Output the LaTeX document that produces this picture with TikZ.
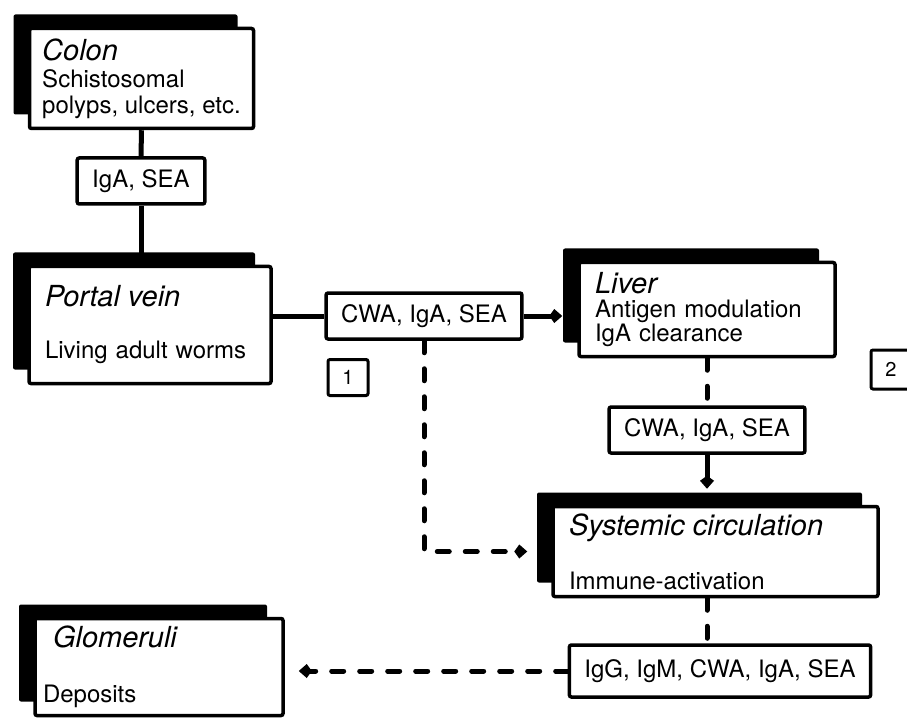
\documentclass[tikz,border=0pt]{standalone}
\usepackage{fontspec}
\setmainfont{TeX Gyre Heros}
\usetikzlibrary{arrows.meta,shadows}

\newcommand{\organ}[1]{{\fontsize{29}{26}\selectfont\itshape #1}}

\begin{document}
\begin{tikzpicture}[x=1pt,y=-1pt,
  organ box/.style={draw,line width=3.5pt,fill=white,rounded corners=2pt,
    align=left,inner xsep=16pt,inner ysep=0pt,font=\fontsize{24}{26}\selectfont,
    drop shadow={shadow xshift=-16pt,shadow yshift=14pt,fill=black,opacity=1}},
  antigen box/.style={draw,line width=3.5pt,fill=white,rounded corners=2pt,
    inner xsep=15pt,minimum height=46pt,font=\fontsize{24}{26}\selectfont},
  number box/.style={draw,line width=3pt,fill=white,rounded corners=2pt,
    minimum width=40pt,minimum height=36pt,font=\fontsize{20}{20}\selectfont},
  conn/.style={line width=5pt},
  conn dashed/.style={conn,line cap=round,dash pattern=on 12pt off 16pt},
  flow tip/.style={-{Kite[length=13pt,width=14pt,inset=5pt]}}
]
\useasboundingbox (0,0) rectangle (907,719);

% organs
\node[organ box,inner xsep=0pt,minimum width=224pt,minimum height=100pt] (colon) at (141.5,78.5)
  {\organ{Colon}\\[1pt]Schistosomal\\polyps, ulcers, etc.};
\node[organ box,text width=210pt,minimum height=117pt] (portal) at (150,325)
  {\organ{Portal vein}\\[26pt]Living adult worms};
\node[organ box,text width=224pt,minimum height=94pt] (liver) at (707,309.5)
  {\organ{Liver}\\[-2pt]Antigen modulation\\[-2pt]IgA clearance};
\node[organ box,text width=293pt,minimum height=90pt] (systemic) at (715.5,551.5)
  {\organ{Systemic circulation}\\[28pt]Immune-activation};
\node[organ box,inner xsep=8pt,text width=232pt,minimum height=97pt] (glomeruli) at (159,667)
  {\hspace*{10pt}\organ{Glomeruli}\\[29pt]Deposits};

% antigens
\node[antigen box] (iga) at (141,181) {IgA, SEA};
\node[antigen box] (cwa1) at (424,316) {CWA, IgA, SEA};
\node[antigen box] (cwa2) at (707,430) {CWA, IgA, SEA};
\node[antigen box,minimum height=52pt] (igg) at (720,671) {IgG, IgM, CWA, IgA, SEA};

% routes
\node[number box] (route1) at (348,377.5) {1};
\node[number box,minimum height=39pt] (route2) at (891,369.5) {2};

\draw[conn] (colon.south) -- (iga.north);
\draw[conn] (iga.south) -- (iga.south |- portal.north);
\draw[conn] (portal.east |- cwa1.west) -- (cwa1.west);
\draw[conn,flow tip,shorten >=15pt] (cwa1.east) -- (cwa1.east -| liver.west);
\draw[conn dashed,flow tip,shorten >=24pt] (cwa1.south) |- (systemic.west);
\draw[conn dashed] (liver.south -| cwa2.north) -- (cwa2.north);
\draw[conn,flow tip,shorten >=16pt] (cwa2.south) -- (cwa2.south |- systemic.north);
\draw[conn dashed] (systemic.south -| cwa2.south) -- (igg.north -| cwa2.south);
\draw[conn dashed,flow tip,shorten >=14pt] (igg.west) -- (igg.west -| glomeruli.east);
\end{tikzpicture}
\end{document}
